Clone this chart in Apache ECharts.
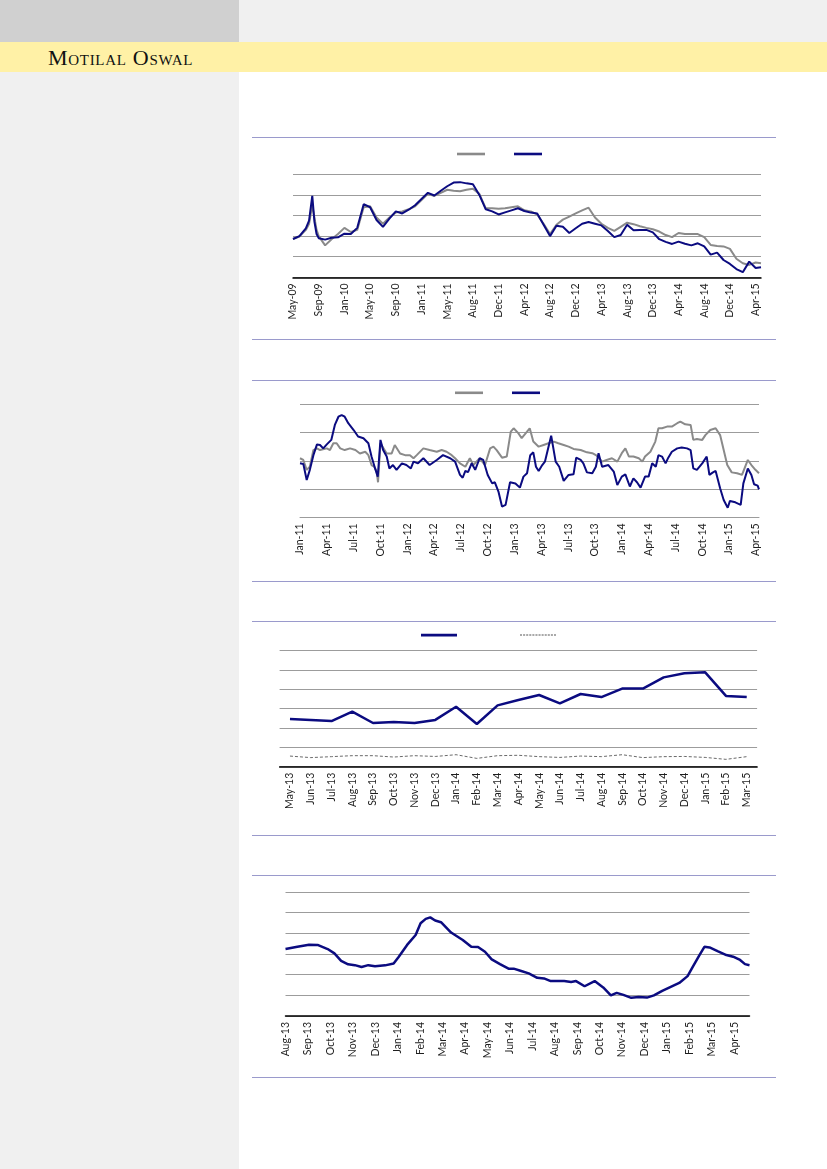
<!DOCTYPE html>
<html>
<head>
<meta charset="utf-8">
<script src="https://cdn.jsdelivr.net/npm/echarts@6/dist/echarts.min.js"></script>
<style>
html,body{margin:0;padding:0;}
body{width:827px;height:1169px;position:relative;overflow:hidden;background:#ffffff;}
.abs{position:absolute;}
#topL{left:0;top:0;width:239px;height:42px;background:#d0d0d0;}
#topR{left:239px;top:0;width:588px;height:42px;background:#f0f0f0;}
#band{left:0;top:42px;width:827px;height:30px;background:#fff1a6;}
#side{left:0;top:72px;width:239px;height:1097px;background:#f0f0f0;}
#brand{left:48px;top:46.5px;font-family:"Liberation Serif","DejaVu Serif",serif;font-variant:small-caps;font-size:22px;line-height:22px;color:#111;letter-spacing:0.7px;white-space:nowrap;}
.rule{left:252px;width:524px;height:1px;background:#9a9acc;}
#chart{left:0;top:0;width:827px;height:1169px;}
</style>
</head>
<body>
<div class="abs" id="topL"></div>
<div class="abs" id="topR"></div>
<div class="abs" id="band"></div>
<div class="abs" id="side"></div>
<div class="abs" id="brand">Motilal Oswal</div>
<div class="abs rule" style="top:137px"></div>
<div class="abs rule" style="top:339px"></div>
<div class="abs rule" style="top:380px"></div>
<div class="abs rule" style="top:581px"></div>
<div class="abs rule" style="top:621px"></div>
<div class="abs rule" style="top:835px"></div>
<div class="abs rule" style="top:875px"></div>
<div class="abs rule" style="top:1077px"></div>
<div class="abs" id="chart"></div>
<script>
// ---------- Chart 1 (days since first tick, ticks every 120 days) ----------
const c1Ticks = ['May-09','Sep-09','Jan-10','May-10','Sep-10','Jan-11','May-11','Aug-11','Dec-11','Apr-12','Aug-12','Dec-12','Apr-13','Aug-13','Dec-13','Apr-14','Aug-14','Dec-14','Apr-15'];
const c1Days = [0,30,60,75,90,100,110,120,150,180,210,240,270,300,330,360,390,420,450,480,510,540,570,600,630,660,690,720,750,780,810,840,870,900,930,960,990,1020,1050,1080,1110,1140,1170,1200,1230,1260,1290,1320,1350,1380,1410,1440,1470,1500,1530,1560,1590,1620,1650,1680,1710,1740,1770,1800,1830,1860,1890,1920,1950,1980,2010,2040,2070,2100,2130,2160,2185];
const c1Navy = [1.86,2.0,2.38,2.75,3.95,2.7,2.1,1.9,1.83,1.92,1.94,2.12,2.1,2.4,3.55,3.4,2.78,2.45,2.85,3.2,3.1,3.28,3.5,3.8,4.1,3.97,4.2,4.42,4.6,4.62,4.56,4.52,4.0,3.3,3.2,3.05,3.15,3.25,3.35,3.22,3.14,3.1,2.55,2.0,2.5,2.45,2.15,2.38,2.6,2.68,2.6,2.52,2.25,1.95,2.05,2.55,2.28,2.3,2.3,2.18,1.85,1.72,1.62,1.73,1.63,1.55,1.65,1.5,1.1,1.2,0.84,0.65,0.4,0.25,0.76,0.45,0.49];
const c1Grey = [1.86,1.98,2.3,2.6,3.5,2.9,2.3,2.0,1.55,1.85,2.1,2.4,2.2,2.3,3.4,3.45,2.9,2.6,2.9,3.15,3.2,3.3,3.45,3.75,4.05,3.95,4.1,4.25,4.2,4.18,4.25,4.3,4.05,3.35,3.35,3.33,3.35,3.4,3.45,3.25,3.2,3.05,2.6,2.1,2.55,2.8,2.95,3.1,3.25,3.38,2.9,2.6,2.4,2.25,2.45,2.65,2.58,2.48,2.4,2.33,2.22,2.05,1.95,2.15,2.1,2.1,2.1,1.95,1.57,1.52,1.5,1.38,0.9,0.68,0.6,0.72,0.68];

// ---------- Chart 2 (months since Jan-11) ----------
const c2Ticks = ['Jan-11','Apr-11','Jul-11','Oct-11','Jan-12','Apr-12','Jul-12','Oct-12','Jan-13','Apr-13','Jul-13','Oct-13','Jan-14','Apr-14','Jul-14','Oct-14','Jan-15','Apr-15'];
const c2NavyM = [0,0.37,0.75,1.1,1.5,1.9,2.24,2.6,3.0,3.5,3.9,4.3,4.66,5.0,5.4,6.0,6.5,7.1,7.65,8.0,8.4,8.7,9.0,9.3,9.7,10.0,10.4,10.8,11.4,11.9,12.4,12.7,13.2,13.8,14.5,15.3,16.0,16.8,17.35,17.9,18.2,18.5,18.8,19.2,19.6,20.1,20.5,21.0,21.5,21.8,22.2,22.6,23.0,23.5,24.1,24.6,25.0,25.4,25.76,26.1,26.4,26.7,27.1,27.4,28.1,28.6,29.0,29.5,30.05,30.6,30.9,31.4,31.7,32.1,32.7,33.1,33.4,33.8,34.5,35.1,35.5,36.0,36.4,36.9,37.3,37.7,38.1,38.6,39.0,39.4,39.8,40.1,40.5,40.9,41.2,41.6,42.2,42.7,43.3,43.7,44.0,44.4,45.0,45.5,45.8,46.2,46.5,47.0,47.4,47.85,48.1,48.7,49.3,49.6,50.1,50.5,50.8,51.2,51.35];
const c2NavyV = [1.91,1.89,1.32,1.68,2.2,2.58,2.56,2.44,2.58,2.74,3.27,3.56,3.62,3.56,3.33,3.09,2.86,2.8,2.62,2.15,1.73,1.44,2.74,2.38,2.15,1.73,1.85,1.68,1.91,1.85,1.73,1.97,1.91,2.09,1.85,2.03,2.2,2.09,1.97,1.5,1.4,1.64,1.6,1.91,1.68,2.09,2.03,1.5,1.2,1.24,0.91,0.38,0.44,1.24,1.2,1.05,1.44,1.56,2.2,2.3,1.79,1.64,1.85,1.97,2.89,1.97,1.79,1.29,1.5,1.52,2.11,2.03,1.91,1.59,1.56,1.79,2.27,1.79,1.85,1.62,1.14,1.44,1.52,1.09,1.38,1.24,1.05,1.44,1.44,1.91,1.79,2.2,2.15,1.91,2.11,2.32,2.44,2.47,2.44,2.38,1.73,1.68,1.91,2.15,1.5,1.59,1.64,1.03,0.61,0.34,0.58,0.53,0.44,1.2,1.73,1.5,1.17,1.12,0.99];
const c2GreyM = [0,0.37,0.75,1.1,1.5,1.9,2.24,3.0,3.35,3.73,4.1,4.5,5.0,5.6,6.2,6.7,7.3,7.65,8.0,8.3,8.58,8.73,9.0,9.7,10.26,10.6,11.2,11.75,12.3,12.7,13.06,13.8,14.5,15.3,15.85,16.4,16.97,17.35,17.9,18.5,19.0,19.4,20.1,20.7,21.27,21.64,22.0,22.6,23.13,23.58,23.9,24.44,24.8,25.4,25.7,26.1,26.7,27.25,27.8,28.4,28.9,29.5,30.05,30.6,31.4,32.1,32.7,33.2,33.8,34.3,34.9,35.5,36.0,36.4,36.8,37.3,37.9,38.3,38.6,39.2,39.75,40.1,40.5,41.06,41.6,42.2,42.55,43.1,43.7,44.0,44.4,45.0,45.35,45.9,46.5,47.0,47.4,47.8,48.3,48.9,49.45,49.6,50.1,50.5,50.95,51.35];
const c2GreyV = [2.09,2.03,1.68,1.79,2.38,2.44,2.38,2.44,2.38,2.62,2.62,2.44,2.38,2.44,2.38,2.26,2.32,2.2,1.85,1.79,1.62,1.24,2.62,2.26,2.26,2.56,2.26,2.2,2.2,2.09,2.2,2.44,2.38,2.32,2.38,2.32,2.2,2.09,1.91,1.79,2.09,1.85,2.09,1.85,2.44,2.5,2.38,2.11,2.15,3.03,3.15,2.97,2.8,3.03,3.15,2.68,2.5,2.56,2.62,2.68,2.62,2.56,2.5,2.42,2.38,2.3,2.27,2.18,1.97,2.03,2.09,1.97,2.27,2.44,2.15,2.15,2.09,1.97,2.15,2.32,2.68,3.15,3.15,3.21,3.21,3.33,3.39,3.29,3.27,2.74,2.77,2.74,2.91,3.09,3.15,2.91,2.38,1.85,1.59,1.56,1.5,1.5,2.03,1.85,1.68,1.56];

// ---------- Chart 3 (monthly categories) ----------
const c3Cats = ['May-13','Jun-13','Jul-13','Aug-13','Sep-13','Oct-13','Nov-13','Dec-13','Jan-14','Feb-14','Mar-14','Apr-14','May-14','Jun-14','Jul-14','Aug-14','Sep-14','Oct-14','Nov-14','Dec-14','Jan-15','Feb-15','Mar-15'];
const c3Navy = [2.47,2.42,2.36,2.85,2.26,2.31,2.26,2.42,3.1,2.21,3.17,3.45,3.71,3.28,3.76,3.6,4.04,4.04,4.62,4.83,4.88,3.66,3.6];
const c3Dash = [0.55,0.47,0.52,0.57,0.57,0.5,0.57,0.53,0.62,0.43,0.57,0.59,0.52,0.48,0.55,0.52,0.62,0.47,0.52,0.53,0.48,0.38,0.52];

// ---------- Chart 4 (months since Aug-13) ----------
const c4Ticks = ['Aug-13','Sep-13','Oct-13','Nov-13','Dec-13','Jan-14','Feb-14','Mar-14','Apr-14','May-14','Jun-14','Jul-14','Aug-14','Sep-14','Oct-14','Nov-14','Dec-14','Jan-15','Feb-15','Mar-15','Apr-15'];
const c4M = [0,0.53,1.05,1.43,1.88,2.18,2.48,2.79,3.09,3.39,3.69,3.99,4.44,4.82,5.05,5.42,5.8,6.02,6.25,6.45,6.67,6.93,7.38,7.9,8.28,8.58,8.89,9.19,9.56,9.94,10.17,10.47,10.84,11.22,11.52,11.82,12.42,12.73,12.95,13.33,13.78,14.16,14.5,14.76,15.06,15.41,15.74,16.11,16.42,16.79,17.17,17.55,17.92,18.15,18.45,18.67,18.9,19.28,19.65,19.95,20.26,20.48,20.68];
const c4V = [3.24,3.35,3.45,3.44,3.24,3.03,2.67,2.5,2.46,2.37,2.46,2.41,2.45,2.54,2.87,3.44,3.92,4.49,4.7,4.77,4.62,4.54,4.04,3.68,3.35,3.34,3.11,2.74,2.51,2.29,2.29,2.19,2.06,1.85,1.82,1.69,1.69,1.65,1.69,1.44,1.69,1.38,1.0,1.12,1.02,0.88,0.92,0.89,1.0,1.22,1.41,1.6,1.93,2.38,2.95,3.35,3.32,3.13,2.95,2.87,2.71,2.51,2.46];

const NAVY = '#0b0b80';
const GREY = '#8a8a8a';
const GRID = '#9c9c9c';
const LABEL = {rotate: 90, margin: 6, fontSize: 10.5, fontFamily: 'Lato', color: '#1e1e1e'};

function tickFmt(labels, step) {
  return function (v) {
    const k = Math.round(v / step);
    if (Math.abs(v - k * step) > 1e-6) return '';
    return labels[k] || '';
  };
}
function yAx(idx, max) {
  return {gridIndex: idx, type: 'value', min: 0, max: max, interval: 1,
    axisLine: {show: false}, axisTick: {show: false}, axisLabel: {show: false},
    splitLine: {show: true, lineStyle: {color: GRID, width: 1}}};
}
function pairs(xs, ys) { return xs.map((x, i) => [x, ys[i]]); }

const chart = echarts.init(document.getElementById('chart'), null, {renderer: 'canvas'});
const dashIcon = 'path://M0,0h2v1h-2zM3,0h2v1h-2zM6,0h2v1h-2zM9,0h2v1h-2zM12,0h2v1h-2zM15,0h2v1h-2zM18,0h2v1h-2zM21,0h2v1h-2zM24,0h2v1h-2zM27,0h2v1h-2zM30,0h2v1h-2zM33,0h2v1h-2z';

chart.setOption({
  animation: false,
  backgroundColor: 'transparent',
  grid: [
    {left: 293, top: 174.3, width: 468, height: 103, outerBoundsMode: 'none'},
    {left: 300, top: 404.3, width: 459, height: 113, outerBoundsMode: 'none'},
    {left: 279.6, top: 650.7, width: 477.5, height: 116, outerBoundsMode: 'none'},
    {left: 285.5, top: 892, width: 464, height: 124, outerBoundsMode: 'none'}
  ],
  legend: [
    {data: [{name: 'S1 grey', icon: 'rect'}, {name: 'S1 navy', icon: 'rect'}], left: 457, top: 152.7, itemWidth: 28, itemHeight: 2.6, itemGap: 29, padding: 0, formatter: () => '', selectedMode: false},
    {data: [{name: 'S2 grey', icon: 'rect'}, {name: 'S2 navy', icon: 'rect'}], left: 455, top: 391.5, itemWidth: 28, itemHeight: 2.6, itemGap: 29, padding: 0, formatter: () => '', selectedMode: false},
    {data: [{name: 'S3 navy', icon: 'rect', itemStyle: {color: NAVY}}], left: 421, top: 633.8, itemWidth: 36, itemHeight: 2.6, padding: 0, formatter: () => '', selectedMode: false},
    {data: [{name: 'S3 dash', icon: dashIcon, itemStyle: {color: '#555'}}], left: 520, top: 634.5, itemWidth: 36, itemHeight: 1, padding: 0, formatter: () => '', selectedMode: false, symbolKeepAspect: false}
  ],
  xAxis: [
    {gridIndex: 0, type: 'value', min: 0, max: 2185, interval: 120,
      axisLine: {lineStyle: {color: '#000', width: 1.5}}, axisTick: {show: false}, splitLine: {show: false},
      axisLabel: Object.assign({}, LABEL, {formatter: tickFmt(c1Ticks, 120), showMinLabel: true, showMaxLabel: true})},
    {gridIndex: 1, type: 'value', min: 0, max: 51.35, interval: 3,
      axisLine: {lineStyle: {color: GRID, width: 1}}, axisTick: {show: false}, splitLine: {show: false},
      axisLabel: Object.assign({}, LABEL, {formatter: tickFmt(c2Ticks, 3), showMinLabel: true, showMaxLabel: true})},
    {gridIndex: 2, type: 'category', data: c3Cats, boundaryGap: true,
      axisLine: {lineStyle: {color: '#000', width: 1.5}}, axisTick: {show: false}, splitLine: {show: false},
      axisLabel: Object.assign({}, LABEL, {interval: 0})},
    {gridIndex: 3, type: 'value', min: 0, max: 20.68, interval: 1,
      axisLine: {lineStyle: {color: '#000', width: 1.5}}, axisTick: {show: false}, splitLine: {show: false},
      axisLabel: Object.assign({}, LABEL, {formatter: tickFmt(c4Ticks, 1), showMinLabel: true, showMaxLabel: true})}
  ],
  yAxis: [yAx(0, 5), yAx(1, 4), yAx(2, 6), yAx(3, 6)],
  series: [
    {name: 'S1 grey', type: 'line', xAxisIndex: 0, yAxisIndex: 0, data: pairs(c1Days, c1Grey), symbol: 'none', silent: true,
      lineStyle: {color: GREY, width: 2}, itemStyle: {color: GREY}},
    {name: 'S1 navy', type: 'line', xAxisIndex: 0, yAxisIndex: 0, data: pairs(c1Days, c1Navy), symbol: 'none', silent: true,
      lineStyle: {color: NAVY, width: 2}, itemStyle: {color: NAVY}},
    {name: 'S2 grey', type: 'line', xAxisIndex: 1, yAxisIndex: 1, data: pairs(c2GreyM, c2GreyV), symbol: 'none', silent: true,
      lineStyle: {color: GREY, width: 2}, itemStyle: {color: GREY}},
    {name: 'S2 navy', type: 'line', xAxisIndex: 1, yAxisIndex: 1, data: pairs(c2NavyM, c2NavyV), symbol: 'none', silent: true,
      lineStyle: {color: NAVY, width: 2}, itemStyle: {color: NAVY}},
    {name: 'S3 navy', type: 'line', xAxisIndex: 2, yAxisIndex: 2, data: c3Navy, symbol: 'none', silent: true,
      lineStyle: {color: NAVY, width: 2.5}, itemStyle: {color: NAVY}},
    {name: 'S3 dash', type: 'line', xAxisIndex: 2, yAxisIndex: 2, data: c3Dash, symbol: 'none', silent: true,
      lineStyle: {color: '#444', width: 0.8, type: [3, 2]}, itemStyle: {color: '#444'}},
    {name: 'S4', type: 'line', xAxisIndex: 3, yAxisIndex: 3, data: pairs(c4M, c4V), symbol: 'none', silent: true,
      lineStyle: {color: NAVY, width: 2.5}, itemStyle: {color: NAVY}}
  ]
});
</script>
</body>
</html>
